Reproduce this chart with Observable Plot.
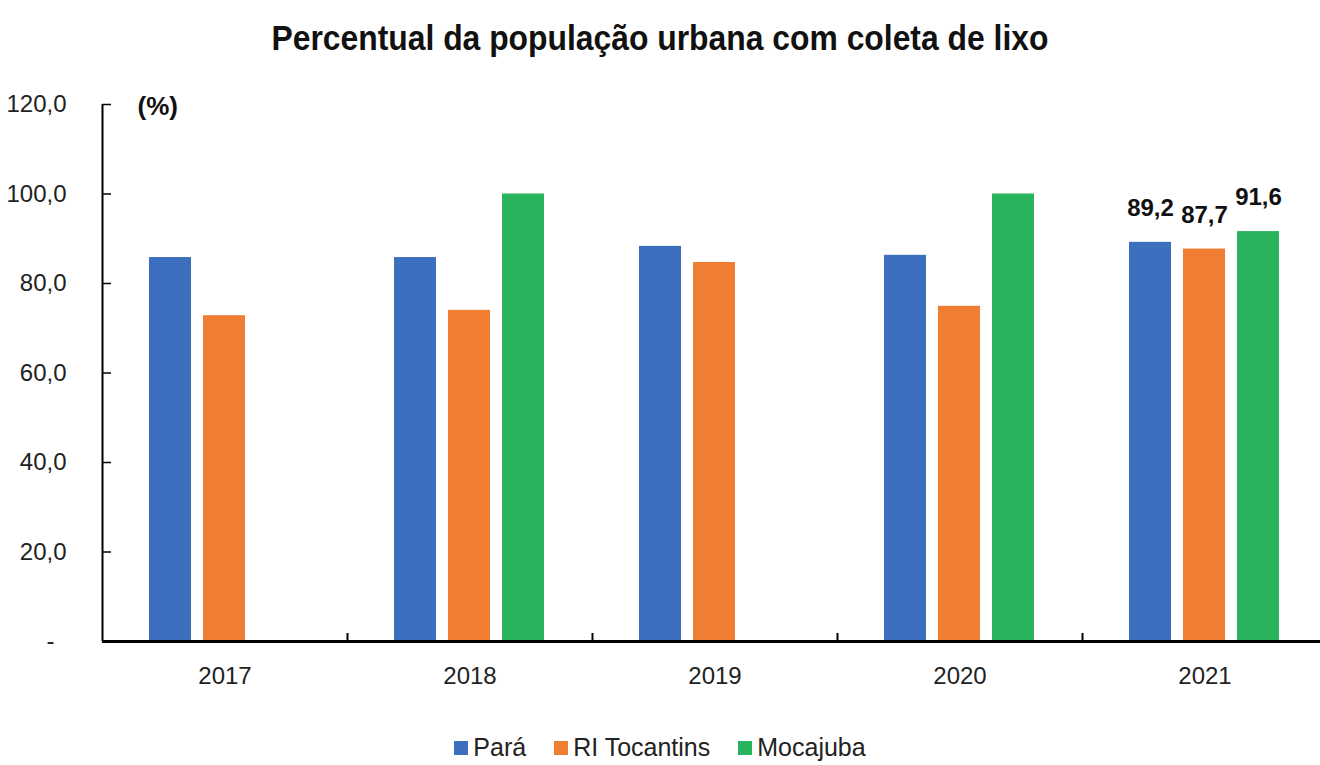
<!DOCTYPE html>
<html><head><meta charset="utf-8">
<script src="https://cdn.jsdelivr.net/npm/d3@7"></script>
<script src="https://cdn.jsdelivr.net/npm/@observablehq/plot@0.6"></script>
<style>
body{margin:0;background:#fff;width:1320px;height:765px;overflow:hidden;font-family:"Liberation Sans",Arial,sans-serif;color:#222}
#title{height:76px;text-align:center;line-height:76px;white-space:nowrap}
#title span{display:inline-block;font-family:"Liberation Sans",Arial,sans-serif;font-weight:bold;font-size:35px;color:#111;transform:scaleX(0.91);transform-origin:center}
#chart{height:640px}
#legend{height:49px;margin-top:7px;display:flex;justify-content:center;align-items:center;gap:28px;font-size:25px;color:#222}
#legend .item{display:flex;align-items:center;gap:5px}
#legend .sw{width:14px;height:14px;display:inline-block}
</style></head><body>
<div id="title"><span>Percentual da população urbana com coleta de lixo</span></div>
<div id="chart"></div>
<div id="legend"></div>
<script>
const years = ["2017", "2018", "2019", "2020", "2021"];
const series = ["Pará", "RI Tocantins", "Mocajuba"];
const para = [85.8, 85.8, 88.3, 86.3, 89.2];
const riTocantins = [72.8, 74.0, 84.7, 74.9, 87.7];
const mocajuba = [null, 100.0, null, 100.0, 91.6];
const labelYears = ["2021"];
const yTicks = [0, 20, 40, 60, 80, 100, 120];
const colors = ["#3c6fbe", "#ef7e33", "#28b35c"];

const values = [para, riTocantins, mocajuba];
const data = years.flatMap((y, i) => series.map((s, j) => ({year: y, series: s, value: values[j][i]})))
  .filter(d => d.value != null);

const fmt = v => v.toFixed(1).replace(".", ",");
const tickFmt = v => v === 0 ? "-\u2002" : fmt(v);

const W = 1320, H = 640, ML = 102, MR = -7;
const facetW = (W - ML - MR) / years.length;

const chart = Plot.plot({
  width: W, height: H,
  marginTop: 28, marginBottom: 75, marginLeft: ML, marginRight: MR,
  style: {fontFamily: '"Liberation Sans", Arial, sans-serif', fontSize: "24px", color: "#222", background: "white", overflow: "visible"},
  fx: {domain: years, padding: 0, axis: null, label: null},
  x: {domain: series, paddingInner: 0.213, paddingOuter: 0.875, axis: null},
  y: {domain: [0, 120], axis: null},
  color: {domain: series, range: colors},
  marks: [
    Plot.barY(data, {fx: "year", x: "series", y: "value", fill: "series"}),
    Plot.text(data.filter(d => labelYears.includes(d.year)), {
      fx: "year", x: "series", y: "value", text: d => fmt(d.value),
      dy: -34, fontWeight: "bold", fontSize: 24, fill: "#111"
    }),
    Plot.ruleY([0], {stroke: "#000", strokeWidth: 3}),
    Plot.ruleX(years.slice(1), {fx: d => d, x: null, dx: -facetW / 2, insetTop: 537 - 8, stroke: "#000", strokeWidth: 2}),
    Plot.ruleX(years.slice(0, 1), {fx: d => d, x: null, dx: -facetW / 2, stroke: "#000", strokeWidth: 2}),
    Plot.tickY(yTicks.slice(1), {fx: () => years[0], y: d => d, insetRight: facetW - 9, stroke: "#000", strokeWidth: 1.5}),
    Plot.text(["(%)"], {fx: () => years[0], frameAnchor: "top-left", textAnchor: "start", lineAnchor: "middle", dx: 35, dy: 2, fontWeight: "bold", fontSize: 26, fill: "#111"}),
    Plot.axisY({ticks: yTicks, tickSize: 0, tickPadding: 36, tickFormat: tickFmt, fontSize: 24, label: null}),
    Plot.axisFx({anchor: "bottom", tickSize: 0, tickPadding: 25, fontSize: 24, label: null})
  ]
});
document.getElementById("chart").appendChild(chart);

const legend = document.getElementById("legend");
series.forEach((s, i) => {
  const item = document.createElement("div");
  item.className = "item";
  const sw = document.createElement("span");
  sw.className = "sw";
  sw.style.background = colors[i];
  const t = document.createElement("span");
  t.textContent = s;
  item.appendChild(sw); item.appendChild(t);
  legend.appendChild(item);
});
</script>
</body></html>
